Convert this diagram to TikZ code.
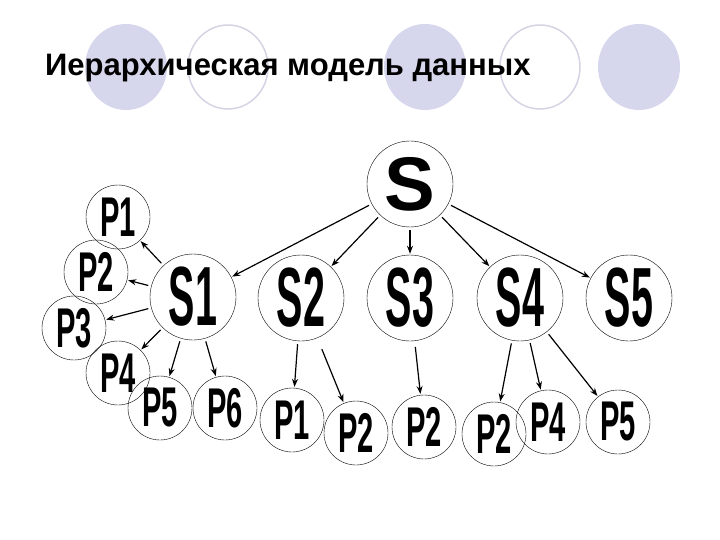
\documentclass[tikz,border=0pt]{standalone}
\usepackage{fontspec}
\setmainfont{Liberation Sans}
\usetikzlibrary{arrows.meta}
\begin{document}
\begin{tikzpicture}[
  x=1pt,y=-1pt,
  big/.style={circle,draw,thin,minimum size=86pt,inner sep=0pt,font=\fontsize{84}{84}\selectfont\bfseries},
  small/.style={circle,draw,thin,minimum size=64pt,inner sep=0pt,font=\fontsize{56}{56}\selectfont\bfseries},
  arr/.style={-{Stealth[length=8pt,width=6pt]},line width=1.2pt,shorten <=3pt,shorten >=1pt}
]
\definecolor{lav}{RGB}{214,214,236}
\definecolor{lavline}{RGB}{212,212,228}
\useasboundingbox (0,0) rectangle (720,540);
\fill[white] (0,0) rectangle (720,540);
\fill[lav] (126,67) ellipse (41 and 43);
\draw[lavline,line width=1.5pt] (228,67) ellipse (40 and 42);
\fill[lav] (425,67) ellipse (41 and 43);
\draw[lavline,line width=1.5pt] (540,67) ellipse (40 and 42);
\fill[lav] (639,67) ellipse (41 and 43);
\node[anchor=base west,font=\fontsize{31}{31}\selectfont\bfseries,inner sep=0pt] (title) at (45,76) {Иерархическая модель данных};
\node[big] (S) at (410,184) {\fontsize{76}{76}\selectfont S};
\node[big] (S1) at (193,297) {\scalebox{0.47}[1]{S1}};
\node[big] (S2) at (301,298) {\scalebox{0.47}[1]{S2}};
\node[big] (S3) at (410,298) {\scalebox{0.47}[1]{S3}};
\node[big] (S4) at (520,298) {\scalebox{0.47}[1]{S4}};
\node[big] (S5) at (629,298) {\scalebox{0.47}[1]{S5}};
\node[small] (a1) at (118,217) {\scalebox{0.52}[1]{P1}};
\node[small] (a2) at (96,272) {\scalebox{0.52}[1]{P2}};
\node[small] (a3) at (74,328) {\scalebox{0.52}[1]{P3}};
\node[small] (a4) at (118,373) {\scalebox{0.52}[1]{P4}};
\node[small] (a5) at (160,408) {\scalebox{0.52}[1]{P5}};
\node[small] (a6) at (225,408) {\scalebox{0.52}[1]{P6}};
\node[small] (b1) at (292,420) {\scalebox{0.52}[1]{P1}};
\node[small] (b2) at (356,433) {\scalebox{0.52}[1]{P2}};
\node[small] (c2) at (424,427) {\scalebox{0.52}[1]{P2}};
\node[small] (d2) at (494,434) {\scalebox{0.52}[1]{P2}};
\node[small] (d4) at (548,422) {\scalebox{0.52}[1]{P4}};
\node[small] (d5) at (618,422) {\scalebox{0.52}[1]{P5}};
\foreach \tg in {S1,S2,S3,S4,S5} \draw[arr] (S) -- (\tg);
\foreach \tg in {a1,a2,a3,a4,a5,a6} \draw[arr] (S1) -- (\tg);
\draw[arr] (S2) -- (b1);
\draw[arr,shorten <=12pt] (S2) -- (b2);
\draw[arr,shorten <=6pt] (S3) -- (c2);
\foreach \tg in {d2,d4,d5} \draw[arr] (S4) -- (\tg);
\end{tikzpicture}
\end{document}
